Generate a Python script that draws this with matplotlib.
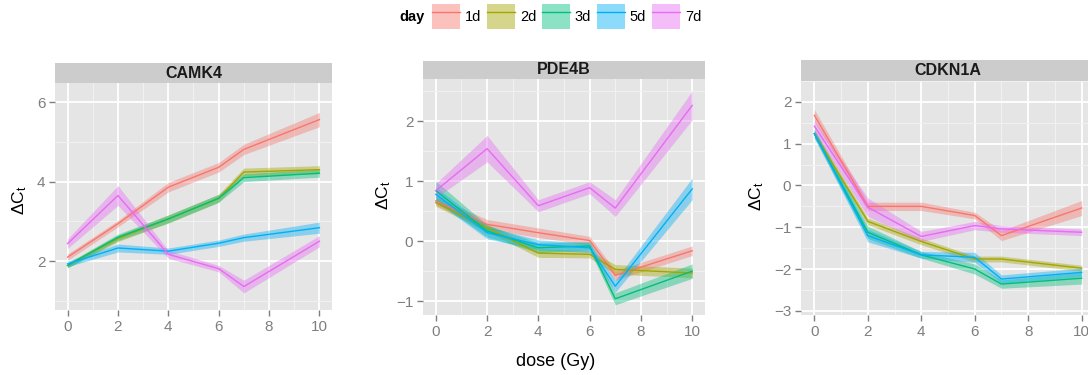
import matplotlib
matplotlib.use("Agg")
import matplotlib.pyplot as plt
from matplotlib.patches import Patch
from matplotlib.lines import Line2D
from matplotlib.ticker import MultipleLocator
import numpy as np

plt.rcParams['font.family'] = ['Liberation Sans', 'DejaVu Sans']
plt.rcParams['mathtext.fontset'] = 'custom'
plt.rcParams['mathtext.rm'] = 'Liberation Sans'
plt.rcParams['mathtext.it'] = 'Liberation Sans:italic'

# ---------------- data ----------------
days = ['1d', '2d', '3d', '5d', '7d']
colors = ['#F8766D', '#A3A500', '#00BF7D', '#00B0F6', '#E76BF3']
dose = [0, 2, 4, 6, 7, 10]
genes = ['CAMK4', 'PDE4B', 'CDKN1A']

camk4_mean = [
    [2.10, 2.94, 3.86, 4.36, 4.81, 5.56],
    [1.89, 2.57, 3.06, 3.58, 4.24, 4.30],
    [1.89, 2.60, 3.06, 3.58, 4.10, 4.21],
    [1.93, 2.33, 2.25, 2.45, 2.59, 2.84],
    [2.44, 3.65, 2.17, 1.81, 1.36, 2.50],
]
camk4_se = [
    [0.08, 0.08, 0.12, 0.12, 0.13, 0.18],
    [0.06, 0.08, 0.10, 0.10, 0.10, 0.10],
    [0.06, 0.08, 0.10, 0.10, 0.10, 0.10],
    [0.07, 0.10, 0.08, 0.08, 0.09, 0.14],
    [0.12, 0.25, 0.10, 0.08, 0.16, 0.14],
]

pde4b_mean = [
    [0.67, 0.28, 0.14, 0.01, -0.57, -0.16],
    [0.64, 0.22, -0.20, -0.22, -0.47, -0.53],
    [0.84, 0.17, -0.11, -0.08, -0.96, -0.50],
    [0.78, 0.14, -0.06, -0.11, -0.75, 0.87],
    [0.84, 1.54, 0.59, 0.89, 0.55, 2.26],
]
pde4b_se = [
    [0.07, 0.08, 0.08, 0.07, 0.08, 0.08],
    [0.06, 0.06, 0.07, 0.06, 0.08, 0.08],
    [0.16, 0.10, 0.08, 0.07, 0.10, 0.12],
    [0.12, 0.10, 0.08, 0.08, 0.10, 0.18],
    [0.12, 0.22, 0.10, 0.10, 0.14, 0.24],
]

cdkn1a_mean = [
    [1.68, -0.50, -0.50, -0.72, -1.20, -0.54],
    [1.24, -0.86, -1.34, -1.76, -1.76, -1.98],
    [1.24, -1.12, -1.66, -2.00, -2.36, -2.22],
    [1.24, -1.20, -1.66, -1.72, -2.24, -2.08],
    [1.42, -0.52, -1.22, -0.96, -1.04, -1.12],
]
cdkn1a_se = [
    [0.14, 0.10, 0.10, 0.08, 0.12, 0.18],
    [0.08, 0.08, 0.08, 0.07, 0.07, 0.07],
    [0.10, 0.15, 0.08, 0.12, 0.10, 0.14],
    [0.10, 0.15, 0.08, 0.12, 0.10, 0.10],
    [0.14, 0.22, 0.12, 0.10, 0.08, 0.08],
]

means = [camk4_mean, pde4b_mean, cdkn1a_mean]
ses = [camk4_se, pde4b_se, cdkn1a_se]
ylims = [(0.77, 6.48), (-1.23, 2.70), (-3.10, 2.50)]
yticks = [[2, 4, 6], [-1, 0, 1, 2], [-3, -2, -1, 0, 1, 2]]

# ---------------- layout (pixels) ----------------
W, H = 1088, 375
fig = plt.figure(figsize=(W / 100, H / 100), dpi=100)
# (left, right, top, bottom, strip_top)
boxes = [
    (55, 332, 83, 310, 63),
    (423, 705, 79, 315, 61),
    (801, 1095, 81, 315, 60),
]
ylabel_pos = [(20, 200), (384, 195), (757, 196)]

grey = '#7F7F7F'
for g, (l, r, t, b, st) in enumerate(boxes):
    ax = fig.add_axes([l / W, 1 - b / H, (r - l) / W, (b - t) / H])
    ax.set_facecolor('#E5E5E5')
    for s in ax.spines.values():
        s.set_visible(False)
    ax.set_xlim(-0.5, 10.5)
    ax.set_ylim(*ylims[g])
    ax.set_xticks([0, 2, 4, 6, 8, 10])
    ax.xaxis.set_minor_locator(MultipleLocator(1))
    ax.set_yticks(yticks[g])
    ystep = yticks[g][1] - yticks[g][0]
    ax.yaxis.set_minor_locator(MultipleLocator(ystep / 2))
    ax.grid(which='major', color='white', linewidth=1.3)
    ax.grid(which='minor', color='#F2F2F2', linewidth=0.7)
    ax.set_axisbelow(True)
    ax.tick_params(which='major', length=4, width=1, color=grey,
                   labelcolor=grey, labelsize=11, pad=3)
    ax.tick_params(which='minor', length=0)
    for k in range(len(days)):
        m = np.array(means[g][k])
        s = np.array(ses[g][k])
        ax.fill_between(dose, m - s, m + s, color=colors[k], alpha=0.4,
                        linewidth=0)
        ax.plot(dose, m, color=colors[k], linewidth=1.0)
    # strip
    sax = fig.add_axes([l / W, 1 - t / H, (r - l) / W, (t - st) / H])
    sax.set_facecolor('#CCCCCC')
    sax.set_xticks([])
    sax.set_yticks([])
    for s in sax.spines.values():
        s.set_visible(False)
    sax.text(0.5, 0.5, genes[g], ha='center', va='center', fontsize=11.5,
             fontweight='bold', color='#1A1A1A', transform=sax.transAxes)
    xp, yp = ylabel_pos[g]
    fig.text(xp / W, 1 - yp / H, r'$\Delta\mathrm{C}_\mathrm{t}$',
             rotation=90, ha='center', va='center', fontsize=12.5)

fig.text(556 / W, 1 - 362 / H, 'dose (Gy)', ha='center', va='center',
         fontsize=13)

# legend
fig.text(425 / W, 1 - 16.5 / H, 'day', ha='right', va='center',
         fontsize=10.5, fontweight='bold')
handles = [(Patch(facecolor=c, alpha=0.45, edgecolor='none'),
            Line2D([], [], color=c, linewidth=1.0)) for c in colors]
fig.legend(handles, days, loc='center left',
           bbox_to_anchor=(432 / W, 1 - 16.5 / H), ncol=5, frameon=False,
           fontsize=10.5, handlelength=1.9, handleheight=2.3,
           handletextpad=0.35, columnspacing=0.4, borderpad=0,
           borderaxespad=0)

fig.savefig('out.png', dpi=100)
